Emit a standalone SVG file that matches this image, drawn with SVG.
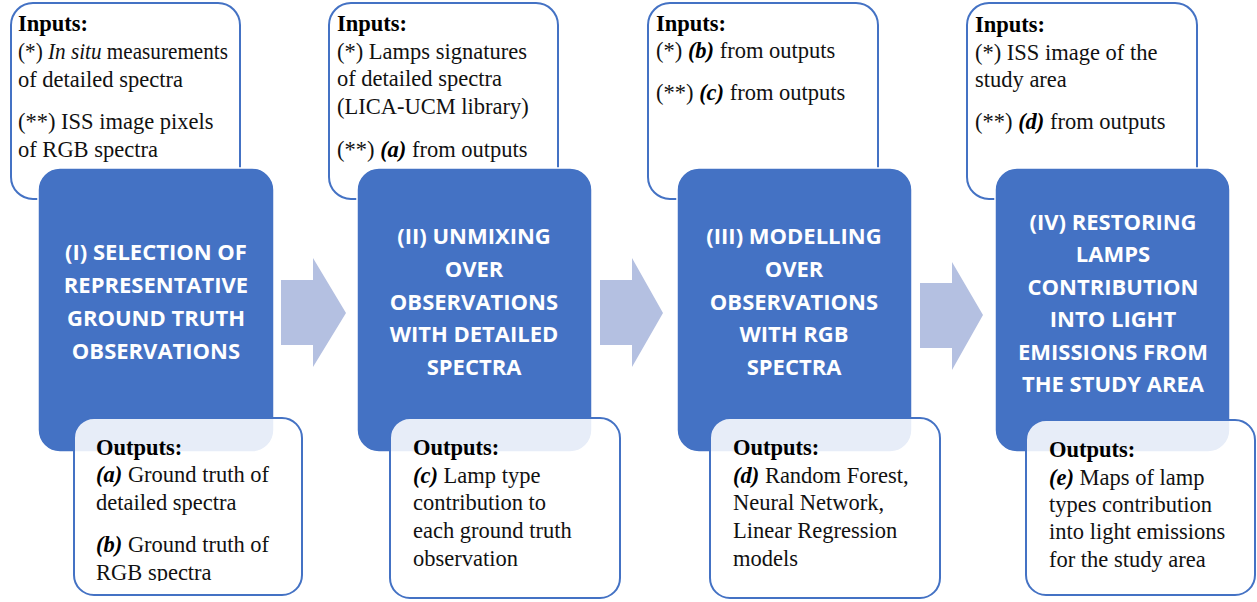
<svg xmlns="http://www.w3.org/2000/svg" width="1257" height="602" viewBox="0 0 1257 602">
<style>
.in{fill:#fff;stroke:#4472C4;stroke-width:2}
.step{fill:#4472C4;stroke:#fff;stroke-width:1.5}
.out{fill:#fff;fill-opacity:0.87;stroke:#4472C4;stroke-width:2}
.arr{fill:#B4C0E1}
.t{font-family:"Liberation Serif","Times New Roman",serif;font-size:22.5px;fill:#111}
.h{font-weight:700;fill:#000}
.bi{font-weight:700;font-style:italic;fill:#000}
.i{font-style:italic}
.st{font-family:"Open Sans","DejaVu Sans",sans-serif;font-size:22px;font-weight:700;fill:#fff;text-anchor:middle}
</style>
<defs>
<clipPath id="c1"><rect x="74" y="418" width="228" height="163"/></clipPath>
</defs>
<g id="connectors">
<polygon class="arr" points="281,280 313,280 313,258 346,313 313,367 313,345 281,345"/>
<polygon class="arr" points="600,280 632,280 632,258 663,313 632,367 632,345 600,345"/>
<polygon class="arr" points="920,283 952,283 952,262 983,315 952,370 952,348 920,348"/>
</g>
<g id="step1">
<rect class="in" x="11" y="3" width="229" height="196" rx="22"/>
<rect class="step" x="38" y="168" width="236" height="284" rx="22"/>
<rect class="out" x="74" y="418" width="228" height="177" rx="20"/>
<text class="t" x="18" y="31"><tspan class="h">Inputs:</tspan></text>
<text class="t" x="18" y="59" textLength="210" lengthAdjust="spacingAndGlyphs">(*) <tspan class="i">In situ</tspan> measurements</text>
<text class="t" x="18" y="87">of detailed spectra</text>
<text class="t" x="18" y="129">(**) ISS image pixels</text>
<text class="t" x="18" y="157">of RGB spectra</text>
<text class="st" x="156" y="260">(I) SELECTION OF</text>
<text class="st" x="156" y="293">REPRESENTATIVE</text>
<text class="st" x="156" y="326">GROUND TRUTH</text>
<text class="st" x="156" y="359">OBSERVATIONS</text>
<g clip-path="url(#c1)">
<text class="t" x="96" y="455"><tspan class="h">Outputs:</tspan></text>
<text class="t" x="96" y="482"><tspan class="bi">(a)</tspan> Ground truth of</text>
<text class="t" x="96" y="510">detailed spectra</text>
<text class="t" x="96" y="552"><tspan class="bi">(b)</tspan> Ground truth of</text>
<text class="t" x="96" y="580">RGB spectra</text>
</g>
</g>
<g id="step2">
<rect class="in" x="329" y="3" width="229" height="196" rx="22"/>
<rect class="step" x="357" y="168" width="235" height="284" rx="22"/>
<rect class="out" x="390" y="418" width="230" height="180" rx="20"/>
<text class="t" x="337" y="31"><tspan class="h">Inputs:</tspan></text>
<text class="t" x="337" y="59">(*) Lamps signatures</text>
<text class="t" x="337" y="86">of detailed spectra</text>
<text class="t" x="337" y="114">(LICA-UCM library)</text>
<text class="t" x="337" y="157">(**) <tspan class="bi">(a)</tspan> from outputs</text>
<text class="st" x="474" y="244">(II) UNMIXING</text>
<text class="st" x="474" y="277">OVER</text>
<text class="st" x="474" y="310">OBSERVATIONS</text>
<text class="st" x="474" y="342">WITH DETAILED</text>
<text class="st" x="474" y="375">SPECTRA</text>
<text class="t" x="413" y="455"><tspan class="h">Outputs:</tspan></text>
<text class="t" x="413" y="483"><tspan class="bi">(c)</tspan> Lamp type</text>
<text class="t" x="413" y="510">contribution to</text>
<text class="t" x="413" y="538">each ground truth</text>
<text class="t" x="413" y="566">observation</text>
</g>
<g id="step3">
<rect class="in" x="648" y="3" width="230" height="196" rx="22"/>
<rect class="step" x="677" y="168" width="235" height="284" rx="22"/>
<rect class="out" x="710" y="418" width="230" height="180" rx="20"/>
<text class="t" x="656" y="31"><tspan class="h">Inputs:</tspan></text>
<text class="t" x="656" y="58">(*) <tspan class="bi">(b)</tspan> from outputs</text>
<text class="t" x="656" y="100">(**) <tspan class="bi">(c)</tspan> from outputs</text>
<text class="st" x="794" y="244">(III) MODELLING</text>
<text class="st" x="794" y="277">OVER</text>
<text class="st" x="794" y="310">OBSERVATIONS</text>
<text class="st" x="794" y="342">WITH RGB</text>
<text class="st" x="794" y="375">SPECTRA</text>
<text class="t" x="733" y="455"><tspan class="h">Outputs:</tspan></text>
<text class="t" x="733" y="483"><tspan class="bi">(d)</tspan> Random Forest,</text>
<text class="t" x="733" y="510">Neural Network,</text>
<text class="t" x="733" y="538">Linear Regression</text>
<text class="t" x="733" y="566">models</text>
</g>
<g id="step4">
<rect class="in" x="967" y="3" width="230" height="196" rx="22"/>
<rect class="step" x="995" y="168" width="235" height="284" rx="22"/>
<rect class="out" x="1026" y="420" width="229" height="175" rx="20"/>
<text class="t" x="975" y="32"><tspan class="h">Inputs:</tspan></text>
<text class="t" x="975" y="60">(*) ISS image of the</text>
<text class="t" x="975" y="87">study area</text>
<text class="t" x="975" y="129">(**) <tspan class="bi">(d)</tspan> from outputs</text>
<text class="st" x="1113" y="230">(IV) RESTORING</text>
<text class="st" x="1113" y="262">LAMPS</text>
<text class="st" x="1113" y="295">CONTRIBUTION</text>
<text class="st" x="1113" y="327">INTO LIGHT</text>
<text class="st" x="1113" y="360">EMISSIONS FROM</text>
<text class="st" x="1113" y="392">THE STUDY AREA</text>
<text class="t" x="1049" y="457"><tspan class="h">Outputs:</tspan></text>
<text class="t" x="1049" y="485"><tspan class="bi">(e)</tspan> Maps of lamp</text>
<text class="t" x="1049" y="512">types contribution</text>
<text class="t" x="1049" y="539">into light emissions</text>
<text class="t" x="1049" y="567">for the study area</text>
</g>
</svg>
